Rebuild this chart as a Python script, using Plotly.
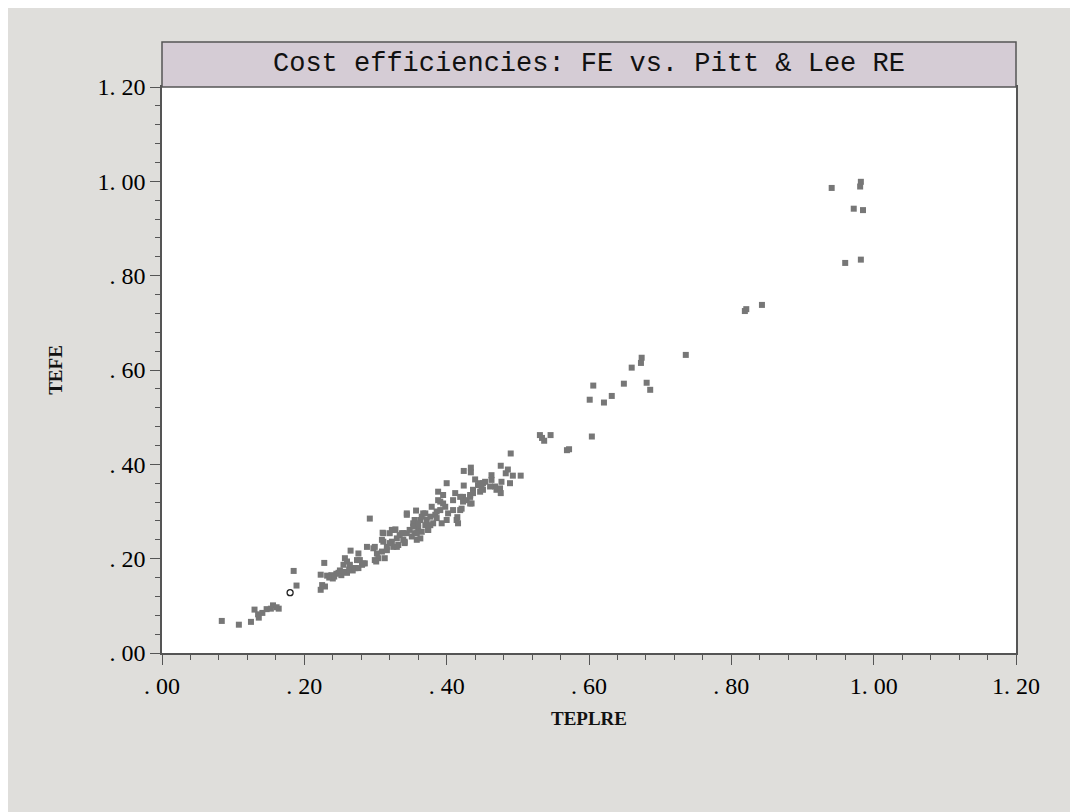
import plotly.graph_objects as go

# TEPLRE (x) and TEFE (y) efficiencies
te_plre = [
    .084, .108, .125, .130, .136, .135, .141, .147, .156, .153, .164, .161, .185, .189,
    .228, .223, .238, .232, .245, .240, .225, .223, .229,
    .235, .242, .248, .252, .250, .256, .260, .263, .268, .272, .257, .255, .265, .264,
    .271, .276, .278, .288, .285, .292, .260, .264, .274, .276, .281, .283, .297, .302,
    .304, .299, .309, .311, .313, .316, .311, .299, .301, .310, .309, .316,
    .320, .323, .325, .327, .330, .332, .334, .339, .337, .344, .341, .348, .351, .353,
    .355, .358, .360, .363, .365, .367, .370, .372, .374, .377, .379, .381, .384, .386,
    .388, .388, .344, .357, .323, .328, .320, .330, .339, .341, .344, .353, .355, .358,
    .360, .363, .365, .370, .374, .377, .386, .391, .393, .395, .398, .400, .400, .402,
    .412, .409, .414, .416, .419, .421, .423, .424, .434, .434, .424, .428, .433, .437,
    .440, .435, .444, .449, .451, .454, .447, .463, .463, .468, .470, .475, .476, .477,
    .483, .486, .489, .490, .493, .504, .476, .447, .461, .451, .437, .433, .419, .423,
    .433, .395, .391, .409, .415,
    .531, .534, .537, .546, .569, .572, .604, .601, .606, .621, .632, .649, .660, .673,
    .674, .681, .686, .736, .819, .821, .843, .941, .982, .981, .972, .985, .960, .982,
]
te_fe = [
    .068, .060, .066, .092, .075, .082, .085, .093, .101, .094, .094, .097, .174, .143,
    .191, .166, .165, .164, .168, .158, .144, .134, .141,
    .160, .162, .170, .165, .175, .172, .170, .177, .175, .180, .201, .187, .217, .176,
    .180, .211, .197, .225, .190, .285, .194, .187, .197, .180, .187, .190, .222, .211,
    .201, .197, .215, .236, .201, .218, .254, .225, .194, .255, .240, .225,
    .254, .236, .225, .261, .243, .229, .250, .240, .254, .254, .233, .261, .247, .275,
    .254, .240, .264, .282, .257, .296, .271, .282, .261, .289, .310, .275, .293, .300,
    .324, .342, .296, .302, .261, .262, .233, .225, .254, .236, .293, .268, .282, .254,
    .275, .243, .289, .296, .261, .271, .286, .321, .275, .335, .310, .360, .282, .296,
    .339, .324, .282, .275, .303, .306, .331, .386, .393, .383, .355, .324, .335, .346,
    .368, .317, .356, .349, .360, .363, .342, .377, .367, .353, .346, .349, .397, .363,
    .381, .389, .360, .423, .376, .376, .339, .360, .353, .346, .339, .331, .331, .321,
    .317, .317, .303, .303, .288,
    .462, .456, .450, .462, .430, .432, .459, .537, .567, .531, .545, .571, .605, .615,
    .626, .573, .558, .632, .725, .729, .738, .986, .999, .989, .942, .939, .827, .834,
]
# highlighted (open) observation
open_x = [.180]
open_y = [.128]

tick_vals = [0, .2, .4, .6, .8, 1.0, 1.2]
tick_text = [". 00", ". 20", ". 40", ". 60", ". 80", "1. 00", "1. 20"]

BG = "#dfdedb"
AX = "#555555"

fig = go.Figure()
fig.add_trace(go.Scatter(
    x=te_plre, y=te_fe, mode="markers",
    marker=dict(symbol="square", size=6, color="#777777", line=dict(width=0)),
    showlegend=False, hoverinfo="x+y"))
fig.add_trace(go.Scatter(
    x=open_x, y=open_y, mode="markers",
    marker=dict(symbol="circle-open", size=6, color="#222222", line=dict(width=1.3)),
    showlegend=False))

L, R, T, B = 154, 70, 79, 167
plot_h = 812 - T - B
box_top = 1 + 45 / plot_h
fig.add_shape(type="rect", xref="paper", yref="paper", x0=0, x1=1, y0=1, y1=box_top,
              fillcolor="#d5ccd5", line=dict(color=AX, width=1.5))
fig.add_annotation(xref="paper", yref="paper", x=0.5, y=1 + 22.5 / plot_h,
                   text="Cost efficiencies: FE vs. Pitt & Lee RE", showarrow=False,
                   font=dict(family="Liberation Mono", size=27, color="#111111"),
                   xanchor="center", yanchor="middle")

axis_common = dict(
    range=[0, 1.2], tickmode="array", tickvals=tick_vals, ticktext=tick_text,
    showgrid=False, zeroline=False, showline=True, linecolor=AX, linewidth=1.5,
    mirror=True, ticks="outside", ticklen=10, tickwidth=1.2, tickcolor=AX,
    tickfont=dict(family="Liberation Serif", size=24, color="#000000"),
    minor=dict(dtick=0.04, tick0=0, ticks="outside", ticklen=5, tickwidth=1.2, tickcolor=AX),
)
fig.update_xaxes(**axis_common,
                 title=dict(text="<b>TEPLRE</b>", standoff=14,
                            font=dict(family="Liberation Serif", size=19, color="#111111")))
fig.update_yaxes(**axis_common,
                 title=dict(text="<b>TEFE</b>", standoff=30,
                            font=dict(family="Liberation Serif", size=19, color="#111111")))

fig.update_layout(
    width=1078, height=812,
    margin=dict(l=L, r=R, t=T, b=B, autoexpand=False),
    paper_bgcolor=BG, plot_bgcolor="white",
)
fig.write_html("out.html")
